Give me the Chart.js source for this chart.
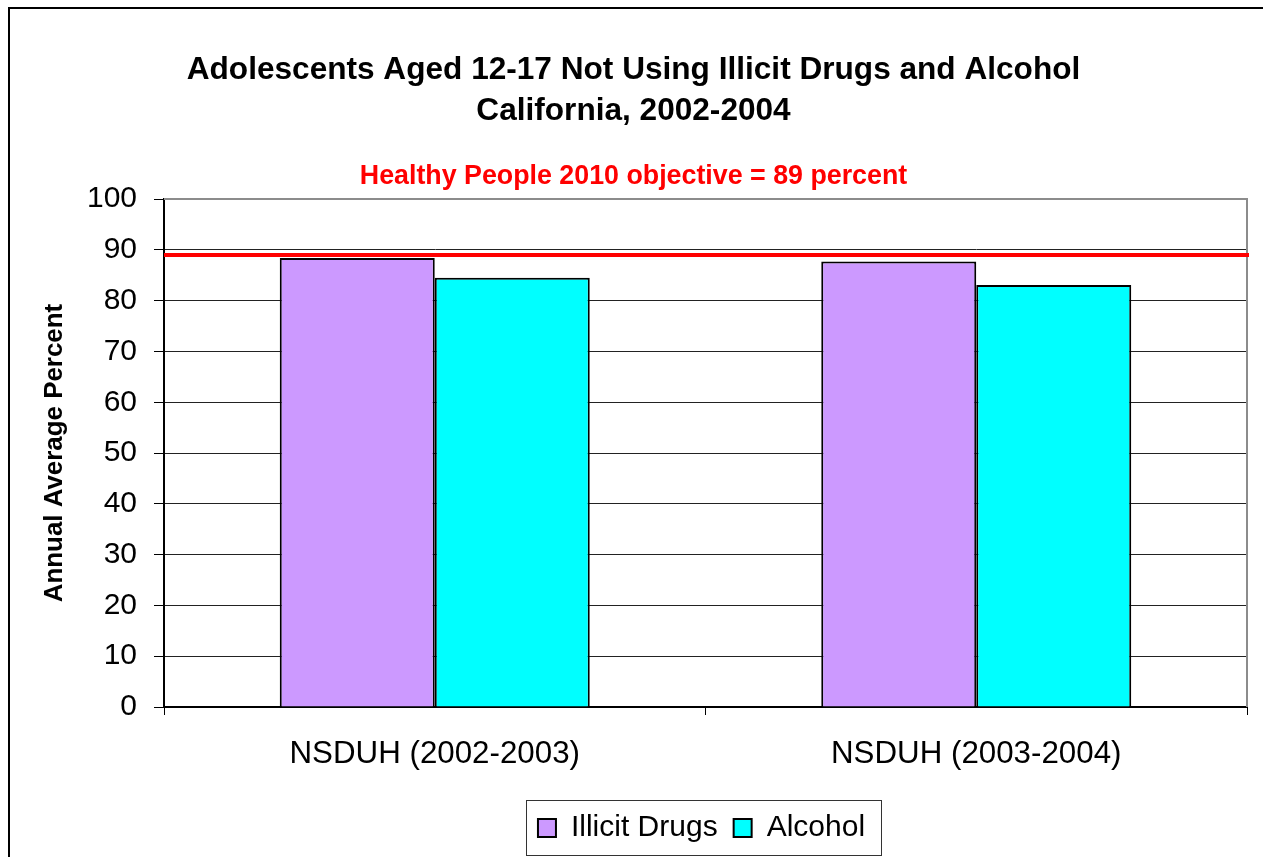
<!DOCTYPE html>
<html>
<head>
<meta charset="utf-8">
<script src="https://cdn.jsdelivr.net/npm/chart.js@4/dist/chart.umd.min.js"></script>
<style>
  html, body { margin: 0; padding: 0; background: #fff; overflow: hidden; }
  #frame {
    position: absolute; left: 8px; top: 7px;
    width: 1400px; height: 1000px;
    border: 2px solid #000; background: #fff;
  }
  #cvs { position: absolute; left: 0; top: 0; }
</style>
</head>
<body>
<div id="frame"></div>
<canvas id="cvs" width="1263" height="857"></canvas>
<script>
//-------------------------------------------------------------------
// data
//-------------------------------------------------------------------
const categories = ['NSDUH (2002-2003)', 'NSDUH (2003-2004)'];
const illicitDrugs = [88.4, 87.7];
const alcohol = [84.5, 83.1];
const objectiveValue = 89;
const objectiveLabel = 'Healthy People 2010 objective = 89 percent';
const titleLines = [
  'Adolescents Aged 12-17 Not Using Illicit Drugs and Alcohol',
  'California, 2002-2004'
];
const yTitle = 'Annual Average Percent';

const FONT = 'Arial, "Liberation Sans", Helvetica, sans-serif';

//--------------------------------------------------------------
// plugins
//--------------------------------------------------------------
// grey plot-area border on top and right (Excel style)
const plotBorder = {
  id: 'plotBorder',
  beforeDatasetsDraw(chart) {
    const a = chart.chartArea;
    const ctx = chart.ctx;
    ctx.save();
    ctx.strokeStyle = '#8c8c8c';
    ctx.lineWidth = 2;
    ctx.beginPath();
    ctx.moveTo(a.left, a.top);
    ctx.lineTo(a.right, a.top);
    ctx.lineTo(a.right, a.bottom);
    ctx.stroke();
    ctx.restore();
  }
};

// objective line across the whole plot
const objectiveLine = {
  id: 'objectiveLine',
  afterDatasetsDraw(chart) {
    const a = chart.chartArea;
    const y = chart.scales.y.getPixelForValue(objectiveValue);
    const ctx = chart.ctx;
    ctx.save();
    ctx.strokeStyle = '#ff0000';
    ctx.lineWidth = 4;
    ctx.beginPath();
    ctx.moveTo(a.left, y);
    ctx.lineTo(a.right + 2, y);
    ctx.stroke();
    ctx.restore();
  }
};

// legend is shifted right and boxed, like the original
const legendBox = {
  id: 'legendBox',
  afterLayout(chart) {
    const lg = chart.legend;
    lg.left += 68;
    lg.right += 68;
  },
  afterDraw(chart) {
    const boxes = chart.legend.legendHitBoxes;
    if (!boxes || !boxes.length) return;
    const first = boxes[0];
    const last = boxes[boxes.length - 1];
    const ctx = chart.ctx;
    ctx.save();
    ctx.strokeStyle = '#333';
    ctx.lineWidth = 1;
    const x0 = Math.round(first.left - 12) + 0.5;
    const x1 = Math.round(last.left + last.width + 16) + 0.5;
    const y0 = Math.round(first.top - 13) + 0.5;
    const y1 = Math.round(first.top + first.height + 12) + 0.5;
    ctx.strokeRect(x0, y0, x1 - x0, y1 - y0);
    ctx.restore();
  }
};

//--------------------------------------------------------------
// chart
//--------------------------------------------------------------
const ctx = document.getElementById('cvs').getContext('2d');

new Chart(ctx, {
  type: 'bar',
  data: {
    labels: categories,
    datasets: [
      {
        label: 'Illicit Drugs',
        data: illicitDrugs,
        backgroundColor: '#cc99ff',
        borderColor: '#000',
        borderWidth: 2
      },
      {
        label: 'Alcohol',
        data: alcohol,
        backgroundColor: '#00ffff',
        borderColor: '#000',
        borderWidth: 2
      }
    ]
  },
  options: {
    responsive: false,
    animation: false,
    devicePixelRatio: 1,
    layout: { padding: { left: 20, right: 16, top: 49, bottom: 4 } },
    datasets: {
      bar: { categoryPercentage: 0.5725, barPercentage: 1 }
    },
    plugins: {
      title: {
        display: true,
        text: titleLines,
        color: '#000',
        font: { family: FONT, size: 31.6, weight: 'bold', lineHeight: 1.32 },
        padding: { top: 0, bottom: 28.5 }
      },
      subtitle: {
        display: true,
        text: objectiveLabel,
        color: '#ff0000',
        font: { family: FONT, size: 26.8, weight: 'bold', lineHeight: 1.2 },
        padding: { top: 0, bottom: 6 }
      },
      legend: {
        position: 'bottom',
        labels: {
          color: '#000',
          font: { family: FONT, size: 30 },
          boxWidth: 18,
          boxHeight: 18,
          padding: 16
        }
      },
      tooltip: { enabled: false }
    },
    scales: {
      x: {
        grid: {
          offset: true,
          drawOnChartArea: false,
          drawTicks: true,
          tickLength: 8,
          color: '#000'
        },
        border: { display: true, color: '#000', width: 2 },
        ticks: {
          color: '#000',
          padding: 21,
          maxRotation: 0,
          font: { family: FONT, size: 31.3 }
        },
        afterFit(scale) { scale.height = 90; }
      },
      y: {
        min: 0,
        max: 100,
        ticks: {
          stepSize: 10,
          color: '#000',
          padding: 17,
          font: { family: FONT, size: 30 }
        },
        grid: {
          color: '#222',
          lineWidth: 1,
          tickLength: 10,
          tickColor: '#000'
        },
        border: { display: true, color: '#000', width: 2 },
        title: {
          display: true,
          text: yTitle,
          color: '#000',
          font: { family: FONT, size: 25.9, weight: 'bold', lineHeight: 1.2 },
          padding: { top: 19, bottom: 0 }
        },
        afterFit(scale) { scale.width = 144; }
      }
    }
  },
  plugins: [plotBorder, objectiveLine, legendBox]
});
</script>
</body>
</html>
